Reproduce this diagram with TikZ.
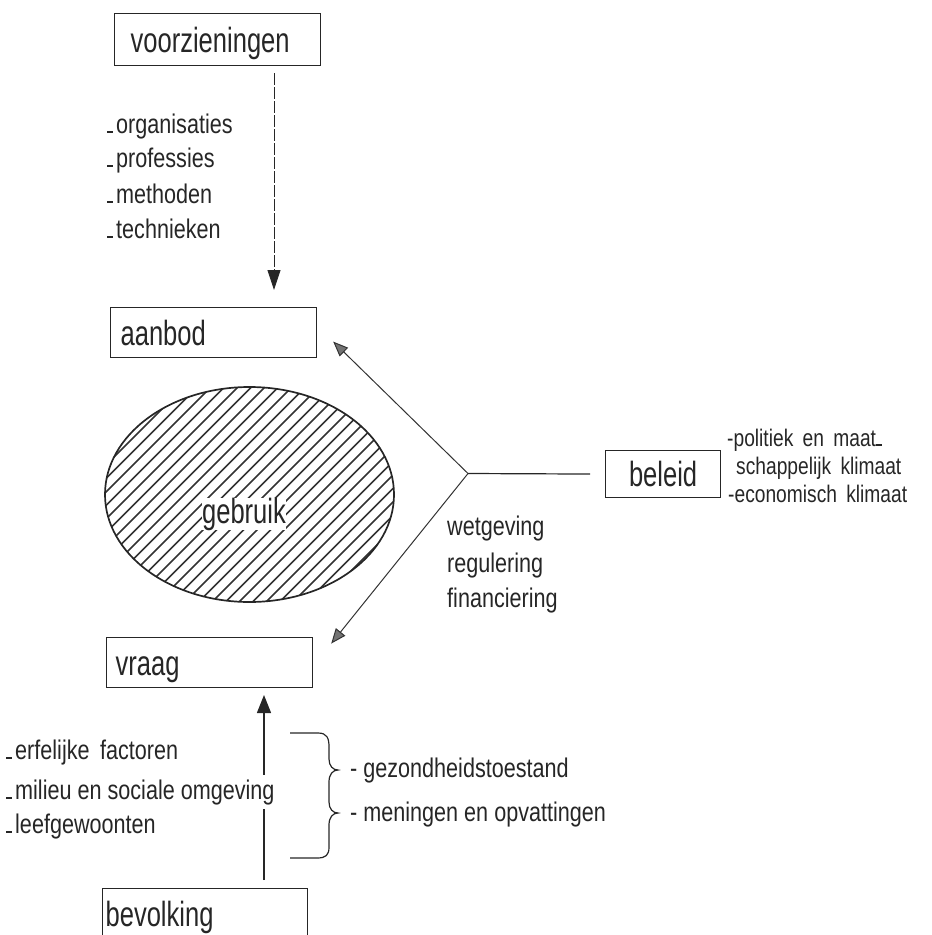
\documentclass[tikz,border=0pt]{standalone}
\usepackage{fontspec}
\usetikzlibrary{arrows.meta}
\newfontfamily\boxfont{Liberation Sans}[FakeStretch=0.73]
\newfontfamily\listfont{Liberation Sans}[FakeStretch=0.8]
\def\GbrX{249.5}
\def\GbrY{494.5}
\newcommand\lowdash{\rule{6pt}{1.6pt}\hspace{3pt}}

\begin{document}
\begin{tikzpicture}[x=1pt, y=-1pt,
  ink/.style={draw=black!85, line width=1.2pt},
  box/.style={ink, font=\boxfont\fontsize{35}{40}\selectfont, text=black!85,
    minimum height=50pt, text height=25pt, text depth=0pt, align=left, anchor=north west},
  lst/.style={font=\listfont\fontsize{27}{32}\selectfont, text=black!85, anchor=base west, inner sep=0pt},
  rlst/.style={lst, font=\listfont\fontsize{24}{28}\selectfont},
  diag/.style={draw=black!80, line width=1pt, -{Triangle[length=15pt,width=12pt,fill=black!55]}},
  hatch/.style={draw=black!80, line width=1.7pt}]
  \useasboundingbox (0,0) rectangle (932,935);

  \node[box, minimum height=52pt, inner xsep=16pt, text width=174pt] (voorz) at (114,13) {voorzieningen};
  \node[box, inner xsep=10pt, text width=186pt] (aanbod) at (110,307) {aanbod};
  \node[box, inner xsep=9pt, text width=188pt] (vraag) at (106,637) {vraag};
  \node[box, inner xsep=3pt, text width=199pt] (bevolking) at (102,888) {bevolking};
  \node[box, minimum width=115pt, minimum height=47pt] (beleid) at (605,450) {beleid};

  \node[lst] (org) at (107,133) {\lowdash organisaties};
  \node[lst] (prof) at (107,167) {\lowdash professies};
  \node[lst] (meth) at (107,203) {\lowdash methoden};
  \node[lst] (tech) at (107,238) {\lowdash technieken};

  \coordinate (aanbodin) at (274,307);
  \draw[ink, line width=0.9pt, dash pattern=on 12pt off 2pt, shorten <=7pt, shorten >=17pt,
    -{Triangle[length=20pt,width=13pt]}] (voorz.south -| aanbodin) -- (aanbodin);

  \begin{scope}
    \clip (\GbrX,\GbrY) ellipse [x radius=144.5, y radius=107.5];
    \foreach \c in {490,503.5,...,1000}
      \draw[hatch] (\c-620,620) -- (\c-370,370);
  \end{scope}
  \draw[ink, line width=1.7pt] (\GbrX,\GbrY) ellipse [x radius=144.5, y radius=107.5];
  \node[font=\boxfont\fontsize{35}{40}\selectfont, text=black!85, fill=white, inner sep=0pt,
    anchor=base] (gebruik) at (244,523) {gebruik};

  \coordinate (split) at (468,473.5);
  \draw[ink, shorten <=15pt] (beleid.west) -- (split);
  \draw[diag] (split) -- ([xshift=16pt,yshift=-9pt]aanbod.east);
  \draw[diag] (split) -- ([xshift=18pt,yshift=19pt]vraag.east);

  \node[rlst] (pol) at (727,446) {-politiek\, en\, maat\lowdash};
  \node[rlst] (schap) at (736,474) {schappelijk\, klimaat};
  \node[rlst] (econ) at (728,502) {-economisch\, klimaat};

  \node[lst] (wet) at (447,535) {wetgeving};
  \node[lst] (reg) at (447,572) {regulering};
  \node[lst] (fin) at (447,607) {financiering};

  \coordinate (vraagin) at (264,687);
  \draw[ink, shorten <=8pt, shorten >=8pt, -{Triangle[length=18pt,width=14pt]}]
    (bevolking.north -| vraagin) -- (vraagin);

  \node[lst] (erf) at (6,759) {\lowdash erfelijke\, factoren};
  \node[lst, fill=white, inner xsep=3pt, inner ysep=4pt] (mil) at (3,799) {\lowdash milieu en sociale omgeving};
  \node[lst] (leef) at (6,833) {\lowdash leefgewoonten};

  \draw[ink] (290,733) -- (318,733) .. controls (327,733) and (329,738) .. (329,747) -- (329,759)
    .. controls (329,766) and (333,770) .. (338,770) .. controls (333,770) and (329,774) .. (329,782)
    -- (329,802) .. controls (329,809) and (333,813) .. (338,813) .. controls (333,813) and (329,817) .. (329,825)
    -- (329,847) .. controls (329,855) and (326,858) .. (317,858) -- (290,858);

  \node[lst] (gez) at (350,777) {- gezondheidstoestand};
  \node[lst] (men) at (350,821) {- meningen en opvattingen};
\end{tikzpicture}
\end{document}
